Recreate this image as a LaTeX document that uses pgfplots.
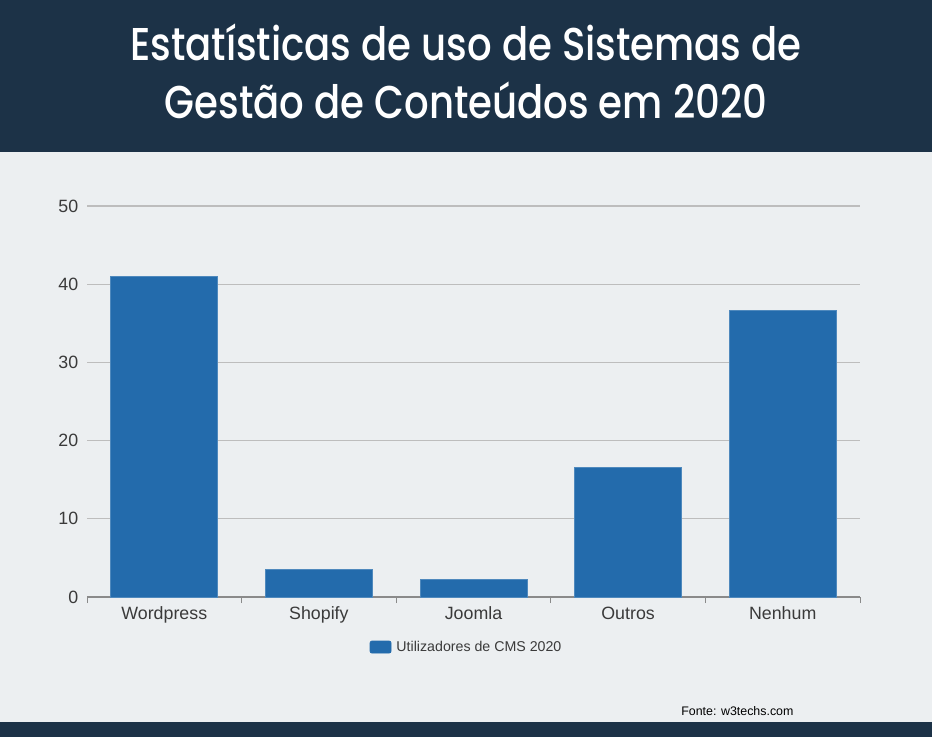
\documentclass[border=0pt]{standalone}
\usepackage{pgfplots}
\pgfplotsset{compat=1.18}
\usepackage{fontspec}
\setmainfont{Liberation Sans}
\newfontfamily\titlefont{Poppins}[UprightFont={* Medium}, FakeStretch=0.84]

\definecolor{headbg}{HTML}{1C3247}
\definecolor{pagebg}{HTML}{ECEFF1}
\definecolor{barblue}{HTML}{236BAC}
\definecolor{gridgray}{HTML}{BDBDBD}
\definecolor{axisgray}{HTML}{8A8A8A}
\definecolor{txt}{HTML}{3A3A3A}

\begin{document}
\begin{tikzpicture}[x=1pt,y=1pt]
% page, header and footer bands
\fill[pagebg] (0,0) rectangle (932,737);
\fill[headbg] (0,585) rectangle (932,737);
\fill[headbg] (0,0) rectangle (932,15);

\node[white, font=\titlefont\fontsize{46}{58}\selectfont, align=center]
  at (466,666) {Estatísticas de uso de Sistemas de\\Gestão de Conteúdos em 2020};

\begin{axis}[
    at={(87pt,140pt)}, anchor=south west,
    scale only axis,
    width=773pt, height=391pt,
    ybar, bar width=107pt,
    xmin=-0.5, xmax=4.5,
    ymin=0, ymax=50,
    xtick={0,1,2,3,4},
    xticklabels={Wordpress,Shopify,Joomla,Outros,Nenhum},
    minor xtick={-0.5,0.5,1.5,2.5,3.5,4.5},
    ytick={0,10,20,30,40,50},
    /pgf/number format/assume math mode=true,
    axis x line*=bottom, axis y line*=left,
    y axis line style={draw=none},
    x axis line style={axisgray, line width=1.2pt, -},
    tick align=outside,
    major x tick style={draw=none},
    minor x tick style={axisgray, line width=1pt},
    minor tick length=6pt,
    ytick style={draw=none},
    ymajorgrids, major grid style={gridgray, line width=1.3pt},
    tick label style={txt, font=\fontsize{17.8}{20}\selectfont},
    xticklabel style={text height=12.5pt, text depth=4pt, yshift=-2pt},
    yticklabel style={xshift=-1pt},
    legend style={at={(0.491,-0.128)}, anchor=center, draw=none, fill=none,
        font=\fontsize{14.2}{16}\selectfont, text=txt},
    legend image code/.code={\fill[barblue, rounded corners=2pt] (0pt,-6pt) rectangle (21pt,6pt);},
    legend cell align=left,
]
\addplot[fill=barblue, draw=barblue!80!white, line width=0.8pt] coordinates {
    (0,41.0) (1,3.5) (2,2.2) (3,16.6) (4,36.7)
};
\addlegendentry{\hspace{3pt}Utilizadores de CMS 2020}
\end{axis}

\node[anchor=east, font=\fontsize{12.4}{14}\selectfont, black] at (797,26) {Fonte: w3techs.com};
\end{tikzpicture}
\end{document}
